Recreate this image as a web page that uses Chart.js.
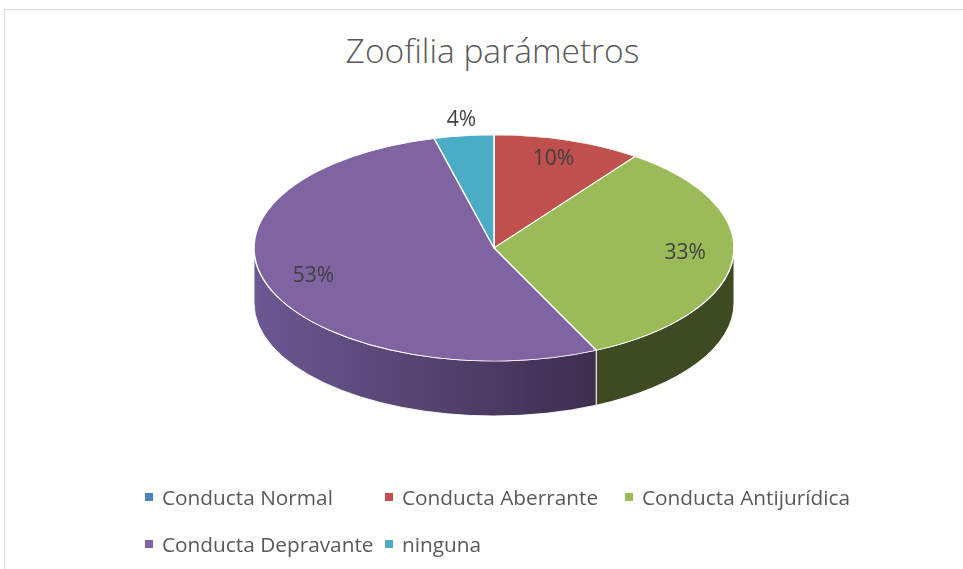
<!DOCTYPE html>
<html>
<head>
<meta charset="utf-8">
<script src="https://cdn.jsdelivr.net/npm/chart.js@4/dist/chart.umd.min.js"></script>
<style>
  html, body { margin: 0; padding: 0; background: #fff; }
  #wrap { position: relative; width: 963px; height: 569px; overflow: hidden; font-family: "Open Sans", "Noto Sans", sans-serif; }
  #frame { position: absolute; left: 4px; top: 9px; width: 970px; height: 600px; border: 1px solid #d9d9d9; box-sizing: border-box; }
  #title { position: absolute; left: 0; width: 985px; top: 27px; text-align: center; font-size: 33.5px; font-weight: 300; color: #595959; line-height: 46px; }
  #chart { position: absolute; left: 0; top: 0; }
  #legend { position: absolute; left: 145px; top: 483px; display: grid; grid-template-columns: 240px 240px 240px; row-gap: 19px; font-size: 20.8px; color: #595959; }
  .item { display: flex; align-items: center; height: 28px; white-space: nowrap; }
  .box { width: 8px; height: 8px; margin-right: 9px; flex: none; }
</style>
</head>
<body>
<div id="wrap">
  <div id="frame"></div>
  <div id="title">Zoofilia parámetros</div>
  <canvas id="chart" width="963" height="569"></canvas>
  <div id="legend"></div>
</div>
<script>
// chart data
const categories = ['Conducta Normal', 'Conducta Aberrante', 'Conducta Antijurídica', 'Conducta Depravante', 'ninguna'];
const percentValues = [0, 10, 33, 53, 4];
const sliceColors = ['#4f81bd', '#c0504d', '#9bbb59', '#8064a2', '#4bacc6'];

// look of the tilted pie
const CX = 494, CY = 248, RX = 240, RY = 113, DEPTH = 55;

function wallFill(ctx, i) {
    if (i === 3) {
        const g = ctx.createLinearGradient(CX - RX, 0, CX + RX * 0.5, 0);
        g.addColorStop(0, '#6c5892');
        g.addColorStop(1, '#3b2b4b');
        return g;
    }
    const darker = ['#2f4a6e', '#6e2d2b', '#3e4b22', '#4a3a5e', '#2a6372'];
    return darker[i];
}

const tiltPlugin = {
    id: 'tilt',
    beforeDatasetsDraw(chart) {
        const ctx = chart.ctx;
        const arcs = chart.getDatasetMeta(0).data;

        // side walls, only the front half of the rim is seen
        arcs.forEach((arc, i) => {
            const a1 = Math.max(arc.startAngle, 0);
            const a2 = Math.min(arc.endAngle, Math.PI);
            if (a2 <= a1) return;
            ctx.save();
            ctx.beginPath();
            ctx.ellipse(CX, CY, RX, RY, 0, a1, a2);
            ctx.lineTo(CX + RX * Math.cos(a2), CY + RY * Math.sin(a2) + DEPTH);
            ctx.ellipse(CX, CY + DEPTH, RX, RY, 0, a2, a1, true);
            ctx.closePath();
            ctx.fillStyle = wallFill(ctx, i);
            ctx.fill();
            ctx.strokeStyle = 'rgba(255,255,255,0.9)';
            ctx.lineWidth = 1;
            ctx.stroke();
            ctx.restore();
        });

        // squash the flat pie into the top face
        const first = arcs[0];
        ctx.save();
        ctx.translate(CX, CY);
        ctx.scale(RX / first.outerRadius, RY / first.outerRadius);
        ctx.translate(-first.x, -first.y);
    },
    afterDatasetsDraw(chart) {
        const ctx = chart.ctx;
        ctx.restore();

        // percent labels
        const arcs = chart.getDatasetMeta(0).data;
        ctx.save();
        ctx.font = '21px "Open Sans", sans-serif';
        ctx.fillStyle = '#404040';
        ctx.textAlign = 'center';
        ctx.textBaseline = 'middle';
        arcs.forEach((arc, i) => {
            const v = percentValues[i];
            if (!v) return;
            const mid = (arc.startAngle + arc.endAngle) / 2;
            const small = v < 5;
            const f = small ? 1.08 : 0.8;
            const x = CX + RX * f * Math.cos(mid);
            const y = CY + (small ? -7 : -3) + RY * f * Math.sin(mid);
            ctx.fillText(v + '%', x, y);
        });
        ctx.restore();
    }
};

new Chart(document.getElementById('chart'), {
    type: 'pie',
    data: {
        labels: categories,
        datasets: [{
            data: percentValues,
            backgroundColor: sliceColors,
            borderColor: '#ffffff',
            borderWidth: 1.5
        }]
    },
    options: {
        responsive: false,
        animation: false,
        layout: { padding: { left: 254, right: 229, top: 40, bottom: 49 } },
        plugins: {
            legend: { display: false },
            tooltip: { enabled: false }
        }
    },
    plugins: [tiltPlugin]
});

// legend as a three column grid, like the original
const legend = document.getElementById('legend');
categories.forEach((name, i) => {
    const item = document.createElement('div');
    item.className = 'item';
    item.innerHTML = '<span class="box" style="background:' + sliceColors[i] + '"></span><span>' + name + '</span>';
    legend.appendChild(item);
});
</script>
</body>
</html>
